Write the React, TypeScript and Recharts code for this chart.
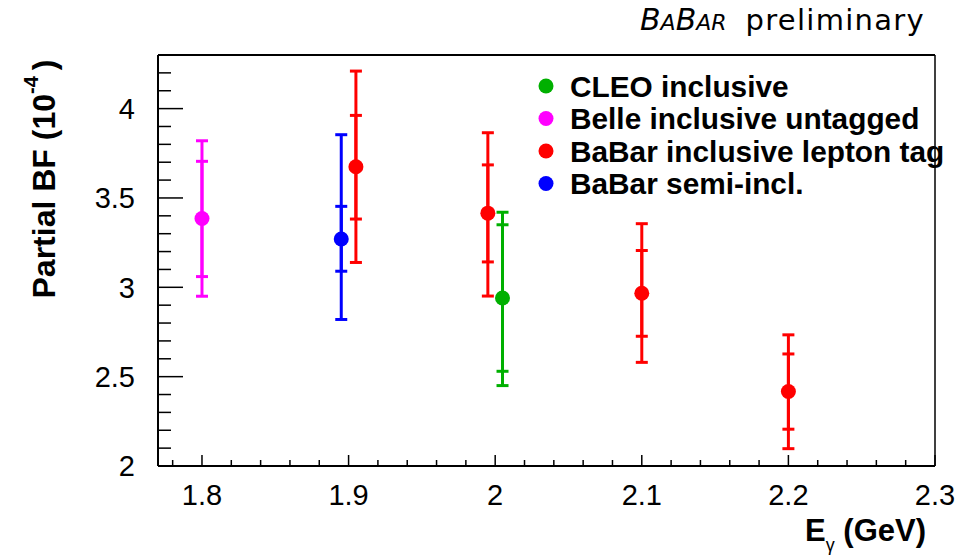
import React from "react";
import {
  ScatterChart,
  Scatter,
  XAxis,
  YAxis,
  ErrorBar,
  ReferenceLine,
  Legend,
} from "recharts";

// partial BF (1e-4) vs photon energy cut; stat = inner bar, tot = outer bar
const cleoX = [2.005];
const cleoY = [2.94];
const cleoStat = [[2.53, 3.35]];
const cleoTot = [[2.45, 3.42]];

const belleX = [1.8];
const belleY = [3.385];
const belleStat = [[3.06, 3.705]];
const belleTot = [[2.95, 3.82]];

const lepX = [1.905, 1.995, 2.1, 2.2];
const lepY = [3.675, 3.415, 2.967, 2.417];
const lepStat = [[3.382, 3.962], [3.142, 3.685], [2.726, 3.206], [2.206, 2.627]];
const lepTot = [[3.139, 4.21], [2.951, 3.865], [2.58, 3.356], [2.097, 2.734]];

const semiX = [1.895];
const semiY = [3.27];
const semiStat = [[3.09, 3.453]];
const semiTot = [[2.82, 3.854]];

const xTicks = [
  1.78, 1.8, 1.82, 1.84, 1.86, 1.88, 1.9, 1.92, 1.94, 1.96, 1.98, 2, 2.02,
  2.04, 2.06, 2.08, 2.1, 2.12, 2.14, 2.16, 2.18, 2.2, 2.22, 2.24, 2.26, 2.28,
  2.3,
];
const yTicks = [
  2, 2.1, 2.2, 2.3, 2.4, 2.5, 2.6, 2.7, 2.8, 2.9, 3, 3.1, 3.2, 3.3, 3.4, 3.5,
  3.6, 3.7, 3.8, 3.9, 4, 4.1, 4.2,
];

const FONT = "'Liberation Sans', Arial, Helvetica, sans-serif";

function rows(xs: number[], ys: number[], stat: number[][], tot: number[][]) {
  return xs.map((x, i) => ({
    x,
    y: ys[i],
    stat: [ys[i] - stat[i][0], stat[i][1] - ys[i]],
    tot: [ys[i] - tot[i][0], tot[i][1] - ys[i]],
  }));
}

const isMajor = (v: number, per: number) =>
  Math.abs(v * per - Math.round(v * per)) < 1e-6;

const XTick = (p: any) => {
  const v = p.payload.value;
  const major = isMajor(v, 10);
  return (
    <g>
      <line x1={p.x} y1={p.y} x2={p.x} y2={p.y - (major ? 11 : 6)} stroke="#000" strokeWidth={1.5} />
      {major && (
        <text x={p.x} y={p.y + 39} textAnchor="middle" fontSize={29} fontFamily={FONT} fill="#000">
          {String(v)}
        </text>
      )}
    </g>
  );
};

const YTick = (p: any) => {
  const v = p.payload.value;
  const major = isMajor(v, 2);
  return (
    <g>
      <line x1={p.x} y1={p.y} x2={p.x + (major ? 25 : 13)} y2={p.y} stroke="#000" strokeWidth={1.5} />
      {major && (
        <text x={p.x - 23} y={p.y} dy="0.36em" textAnchor="end" fontSize={29} fontFamily={FONT} fill="#000">
          {String(v)}
        </text>
      )}
    </g>
  );
};

const dot = (color: string) => (p: any) => (
  <circle cx={p.cx} cy={p.cy} r={7.5} fill={color} />
);

const series = [
  { name: "CLEO inclusive", color: "#00b000", data: rows(cleoX, cleoY, cleoStat, cleoTot) },
  { name: "Belle inclusive untagged", color: "#ff00ff", data: rows(belleX, belleY, belleStat, belleTot) },
  { name: "BaBar inclusive lepton tag", color: "#ff0000", data: rows(lepX, lepY, lepStat, lepTot) },
  { name: "BaBar semi-incl.", color: "#0000ff", data: rows(semiX, semiY, semiStat, semiTot) },
];
const order = series.map((s) => s.name);

const LegendBox = (props: any) => {
  const items = [...(props.payload || [])].sort(
    (a: any, b: any) => order.indexOf(a.value) - order.indexOf(b.value)
  );
  return (
    <svg width={430} height={140} style={{ overflow: "visible" }}>
      {items.map((it: any, i: number) => (
        <g key={it.value}>
          <circle cx={12} cy={16 + i * 32.5} r={7.5} fill={it.color} />
          <text
            x={36}
            y={16 + i * 32.5}
            dy="0.36em"
            fontSize={29.8}
            fontWeight="bold"
            fontFamily={FONT}
            fill="#000"
          >
            {it.value}
          </text>
        </g>
      ))}
    </svg>
  );
};

export default function App() {
  return (
    <div style={{ position: "absolute", left: 0, top: 0, width: 965, height: 555, background: "#fff" }}>
      <ScatterChart
        width={965}
        height={555}
        margin={{ top: 55, right: 30, bottom: 88, left: 157 }}
      >
        <XAxis
          type="number"
          dataKey="x"
          domain={[1.77, 2.3]}
          ticks={xTicks}
          interval={0}
          tickSize={0}
          tickMargin={0}
          tick={<XTick />}
          height={1}
          axisLine={{ stroke: "#000", strokeWidth: 2 }}
          allowDataOverflow
        />
        <YAxis
          type="number"
          dataKey="y"
          domain={[2, 4.3]}
          ticks={yTicks}
          interval={0}
          tickSize={0}
          tickMargin={0}
          tick={<YTick />}
          width={1}
          axisLine={{ stroke: "#000", strokeWidth: 2 }}
          allowDataOverflow
        />
        <ReferenceLine y={4.3} stroke="#000" strokeWidth={2} ifOverflow="visible" />
        <ReferenceLine x={2.3} stroke="#000" strokeWidth={1.5} ifOverflow="visible" />
        <Legend
          layout="vertical"
          align="center"
          verticalAlign="middle"
          itemSorter={null as any}
          content={<LegendBox />}
          wrapperStyle={{ position: "absolute", left: 534, top: 70, width: 430, height: 140 }}
        />
        {series.map((s) => (
          <Scatter
            key={s.name}
            name={s.name}
            data={s.data}
            fill={s.color}
            shape={dot(s.color)}
            isAnimationActive={false}
          >
            <ErrorBar dataKey="tot" direction="y" width={6} stroke={s.color} strokeWidth={3} isAnimationActive={false} />
            <ErrorBar dataKey="stat" direction="y" width={6} stroke={s.color} strokeWidth={3} isAnimationActive={false} />
          </Scatter>
        ))}
      </ScatterChart>
      <svg
        width={965}
        height={555}
        style={{ position: "absolute", left: 0, top: 0, pointerEvents: "none" }}
      >
        <text x={640} y={30} fontFamily="'DejaVu Sans', sans-serif" fontStyle="italic" fontSize={30} fill="#000">
          B<tspan fontSize={22}>A</tspan>B<tspan fontSize={22}>AR</tspan>
        </text>
        <text x={925} y={30} textAnchor="end" fontFamily="'DejaVu Sans', sans-serif" fontSize={29} fill="#000" letterSpacing={1.3}>
          preliminary
        </text>
        <text
          transform="translate(55,179) rotate(-90)"
          textAnchor="middle"
          fontSize={32}
          fontWeight="bold"
          fontFamily={FONT}
          fill="#000"
        >
          Partial BF (10
          <tspan fontSize={20} dy={-17}>-4</tspan>
          <tspan dx={6} dy={17}>)</tspan>
        </text>
        <text x={926} y={541} textAnchor="end" fontSize={31} fontWeight="bold" fontFamily={FONT} fill="#000">
          E<tspan fontSize={18} fontWeight="normal" dy={10}>γ</tspan>
          <tspan dy={-10}> (GeV)</tspan>
        </text>
      </svg>
    </div>
  );
}
